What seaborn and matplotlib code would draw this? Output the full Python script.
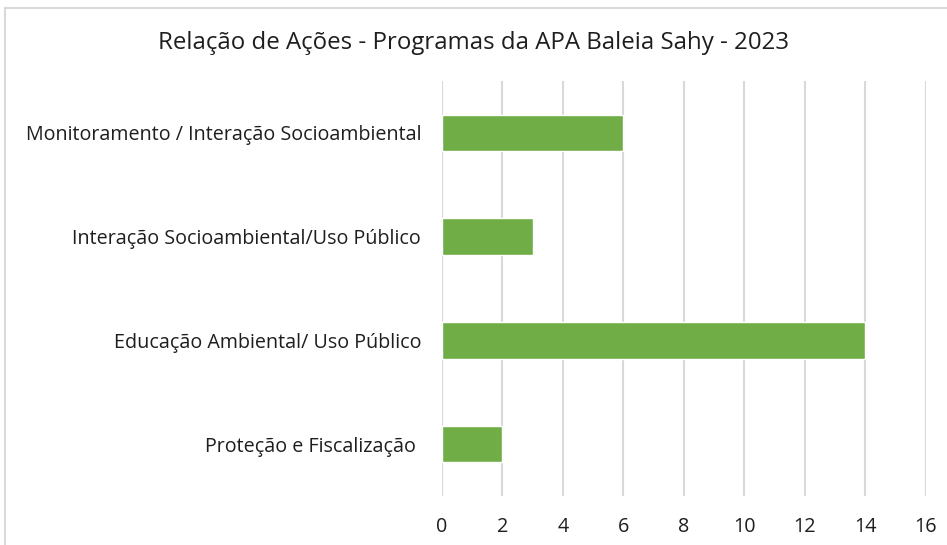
import matplotlib
matplotlib.use("Agg")
import matplotlib.pyplot as plt
import matplotlib.patches as mpatches
import pandas as pd
import seaborn as sns

categories = [
    "Monitoramento / Interação Socioambiental",
    "Interação Socioambiental/Uso Público",
    "Educação Ambiental/ Uso Público",
    "Proteção e Fiscalização ",
]
acoes = [6, 3, 14, 2]
x_ticks = [0, 2, 4, 6, 8, 10, 12, 14, 16]
title = "Relação de Ações - Programas da APA Baleia Sahy - 2023"

df = pd.DataFrame({"programa": categories, "acoes": acoes})

sns.set_style("white")
plt.rcParams["font.family"] = ["Open Sans", "DejaVu Sans"]

fig = plt.figure(figsize=(9.47, 5.45), dpi=100)
ax = fig.add_axes([0.4667, 0.0899, 0.9778 - 0.4667, 0.8514 - 0.0899])

sns.barplot(data=df, x="acoes", y="programa", order=categories,
            color="#70AD47", saturation=1, width=0.35, ax=ax, zorder=3)

ax.set_xlim(0, 16)
ax.set_xticks(x_ticks)
ax.grid(axis="x", color="#D9D9D9", linewidth=1.5, zorder=0)
ax.set_axisbelow(True)
for s in ax.spines.values():
    s.set_visible(False)
ax.set_xlabel("")
ax.set_ylabel("")
ax.tick_params(axis="y", length=0, pad=15, labelsize=14.2, labelcolor="#1E1E1E")
ax.tick_params(axis="x", length=0, pad=15, labelsize=14.2, labelcolor="#1E1E1E")

fig.text(0.5, 1 - 43 / 545, title, ha="center", va="center",
         fontsize=17.3, color="#1E1E1E")

# chart border like the Excel frame
fig.patches.append(mpatches.Rectangle((5 / 947, -0.05), 1.2, 1.05 - 8 / 545,
                                      transform=fig.transFigure, fill=False,
                                      edgecolor="#D9D9D9", linewidth=1.5))

fig.savefig("out.png", dpi=100)
